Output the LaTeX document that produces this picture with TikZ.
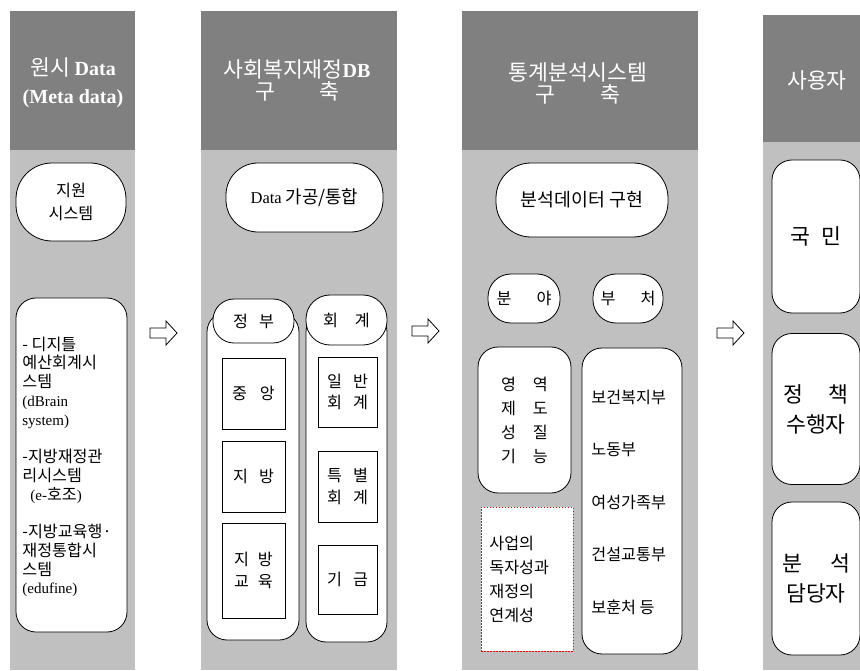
\documentclass[tikz,border=0pt]{standalone}
\usepackage{fontspec}
\setmainfont{Noto Sans CJK KR}[Scale=1.08]
\newfontfamily\serifrm{Liberation Serif}
\newcommand\en[1]{{\serifrm #1}}
\usetikzlibrary{positioning}
\definecolor{headgray}{HTML}{808080}
\definecolor{bodygray}{HTML}{C0C0C0}

\begin{document}
\begin{tikzpicture}[x=1pt,y=-1pt,line width=.8pt,
	every node/.style={font=\fontsize{15}{18.75}\selectfont,inner sep=0pt},
	head/.style={text=white,font=\fontsize{20}{22}\selectfont,align=center},
	pill/.style={draw,fill=white,rounded corners=#1,align=center},
	rbox/.style={draw,fill=white,rounded corners=20pt,align=center},
	userbox/.style={rbox,minimum width=88pt,font=\fontsize{20}{22}\selectfont},
	sqbox/.style={draw,fill=white,align=center},
	hollow/.style={draw,fill=white}]
	\useasboundingbox (0,0) rectangle (860,671);
	\foreach \xa/\xb in {10/135,201/397,462/698} {
		\fill[bodygray] (\xa,150) rectangle (\xb,670);
		\fill[headgray] (\xa,11) rectangle (\xb,150);
	}
	\fill[bodygray] (763,142) rectangle (860,670);
	\fill[headgray] (763,15) rectangle (860,142);
	\foreach \ax/\ay in {150/333,412/331,717/333} \draw[hollow] (\ax,\ay-5) -- ++(16,0) -- ++(0,-7) -- ++(11,12) -- ++(-11,12) -- ++(0,-7) -- ++(-16,0) -- cycle;

	\node[head] (h1) at (73,83) {원시 \en{\bfseries Data}\\[6pt]\en{\bfseries (Meta data)}};
	\node[head] (h2) at (297,80) {사회복지재정\en{\bfseries DB}\\구\hspace{44pt}축};
	\node[head] (h3) at (578,83) {통계분석시스템\\구\hspace{46pt}축};
	\node[head] (h4) at (817,80) {사용자};

	\node[pill=36pt,minimum width=110pt,minimum height=78pt] (jiwon) at (71,202) {지원\\[5pt]시스템};
	\node[rbox,minimum width=111pt,minimum height=334pt] (sys) at (71.5,465) {};
	\node[align=left,anchor=west] (systxt) at (22,467) {- 디지틀\\예산회계시\\스템\\\en{(dBrain}\\\en{system)}\\[18.75pt]-지방재정관\\리시스템\\\hspace{8pt}\en{(e-}호조\en{)}\\[18.75pt]-지방교육행·\\재정통합시\\스템\\\en{(edufine)}};

	\node[pill=32pt,minimum width=157pt,minimum height=69pt,font=\fontsize{16.5}{20}\selectfont] (gagong) at (304.5,197.5) {\en{Data} 가공/통합};
	\node[rbox,minimum width=92pt,minimum height=328pt] (govbox) at (253,476) {};
	\node[rbox,minimum width=81pt,minimum height=330pt] (accbox) at (346.5,477) {};
	\node[pill=21pt,minimum width=81pt,minimum height=44pt] (gov) at (253.5,321) {정\hspace{11pt}부};
	\node[pill=24pt,minimum width=81pt,minimum height=50pt] (acc) at (346.5,320) {회\hspace{17pt}계};
	\node[sqbox,minimum width=63pt,minimum height=71pt] (central) at (253.5,393.5) {중\hspace{13pt}앙};
	\node[sqbox,minimum width=63pt,minimum height=71pt] (local) at (253.5,476.5) {지\hspace{11pt}방};
	\node[sqbox,minimum width=63pt,minimum height=95pt] (edu) at (253.5,570.5) {지\hspace{9pt}방\\[3pt]교\hspace{9pt}육};
	\node[sqbox,minimum width=59pt,minimum height=70pt] (general) at (347.5,392) {일\hspace{11pt}반\\[3pt]회\hspace{11pt}계};
	\node[sqbox,minimum width=59pt,minimum height=71pt] (special) at (347.5,486.5) {특\hspace{11pt}별\\[3pt]회\hspace{11pt}계};
	\node[sqbox,minimum width=59pt,minimum height=69pt] (fund) at (347.5,579.5) {기\hspace{11pt}금};

	\node[pill=35pt,minimum width=172pt,minimum height=74pt,font=\fontsize{17}{20}\selectfont] (impl) at (582,200) {분석데이터 구현};
	\node[pill=23pt,minimum width=72pt,minimum height=49pt] (field) at (524,298.5) {분\hspace{25pt}야};
	\node[pill=23pt,minimum width=70pt,minimum height=49pt] (dept) at (628,298.5) {부\hspace{25pt}처};
	\node[rbox,minimum width=93pt,minimum height=146pt,font=\fontsize{15}{24}\selectfont] (area) at (524.5,420) {영\hspace{17pt}역\\제\hspace{17pt}도\\성\hspace{17pt}질\\기\hspace{17pt}능};
	\node[draw=red,line width=1pt,dash pattern=on 1.5pt off 1.5pt,fill=white,minimum width=92pt,minimum height=144pt] (link) at (527,579) {};
	\node[align=left,anchor=west,font=\fontsize{15}{24}\selectfont] (linktxt) at (489,579) {사업의\\독자성과\\재정의\\연계성};
	\node[rbox,minimum width=100pt,minimum height=306pt] (min) at (632,501) {};
	\node[align=left,anchor=west,font=\fontsize{15}{52.5}\selectfont] (mintxt) at (591,502) {보건복지부\\노동부\\여성가족부\\건설교통부\\보훈처 등};

	\node[userbox,minimum height=153pt] (people) at (816,236.5) {국\hspace{12pt}민};
	\node[userbox,minimum height=151pt] (exec) at (816,409) {정\hspace{26pt}책\\[8pt]수행자};
	\node[userbox,minimum height=153pt] (analyst) at (816,578.5) {분\hspace{28pt}석\\[8pt]담당자};
\end{tikzpicture}
\end{document}
